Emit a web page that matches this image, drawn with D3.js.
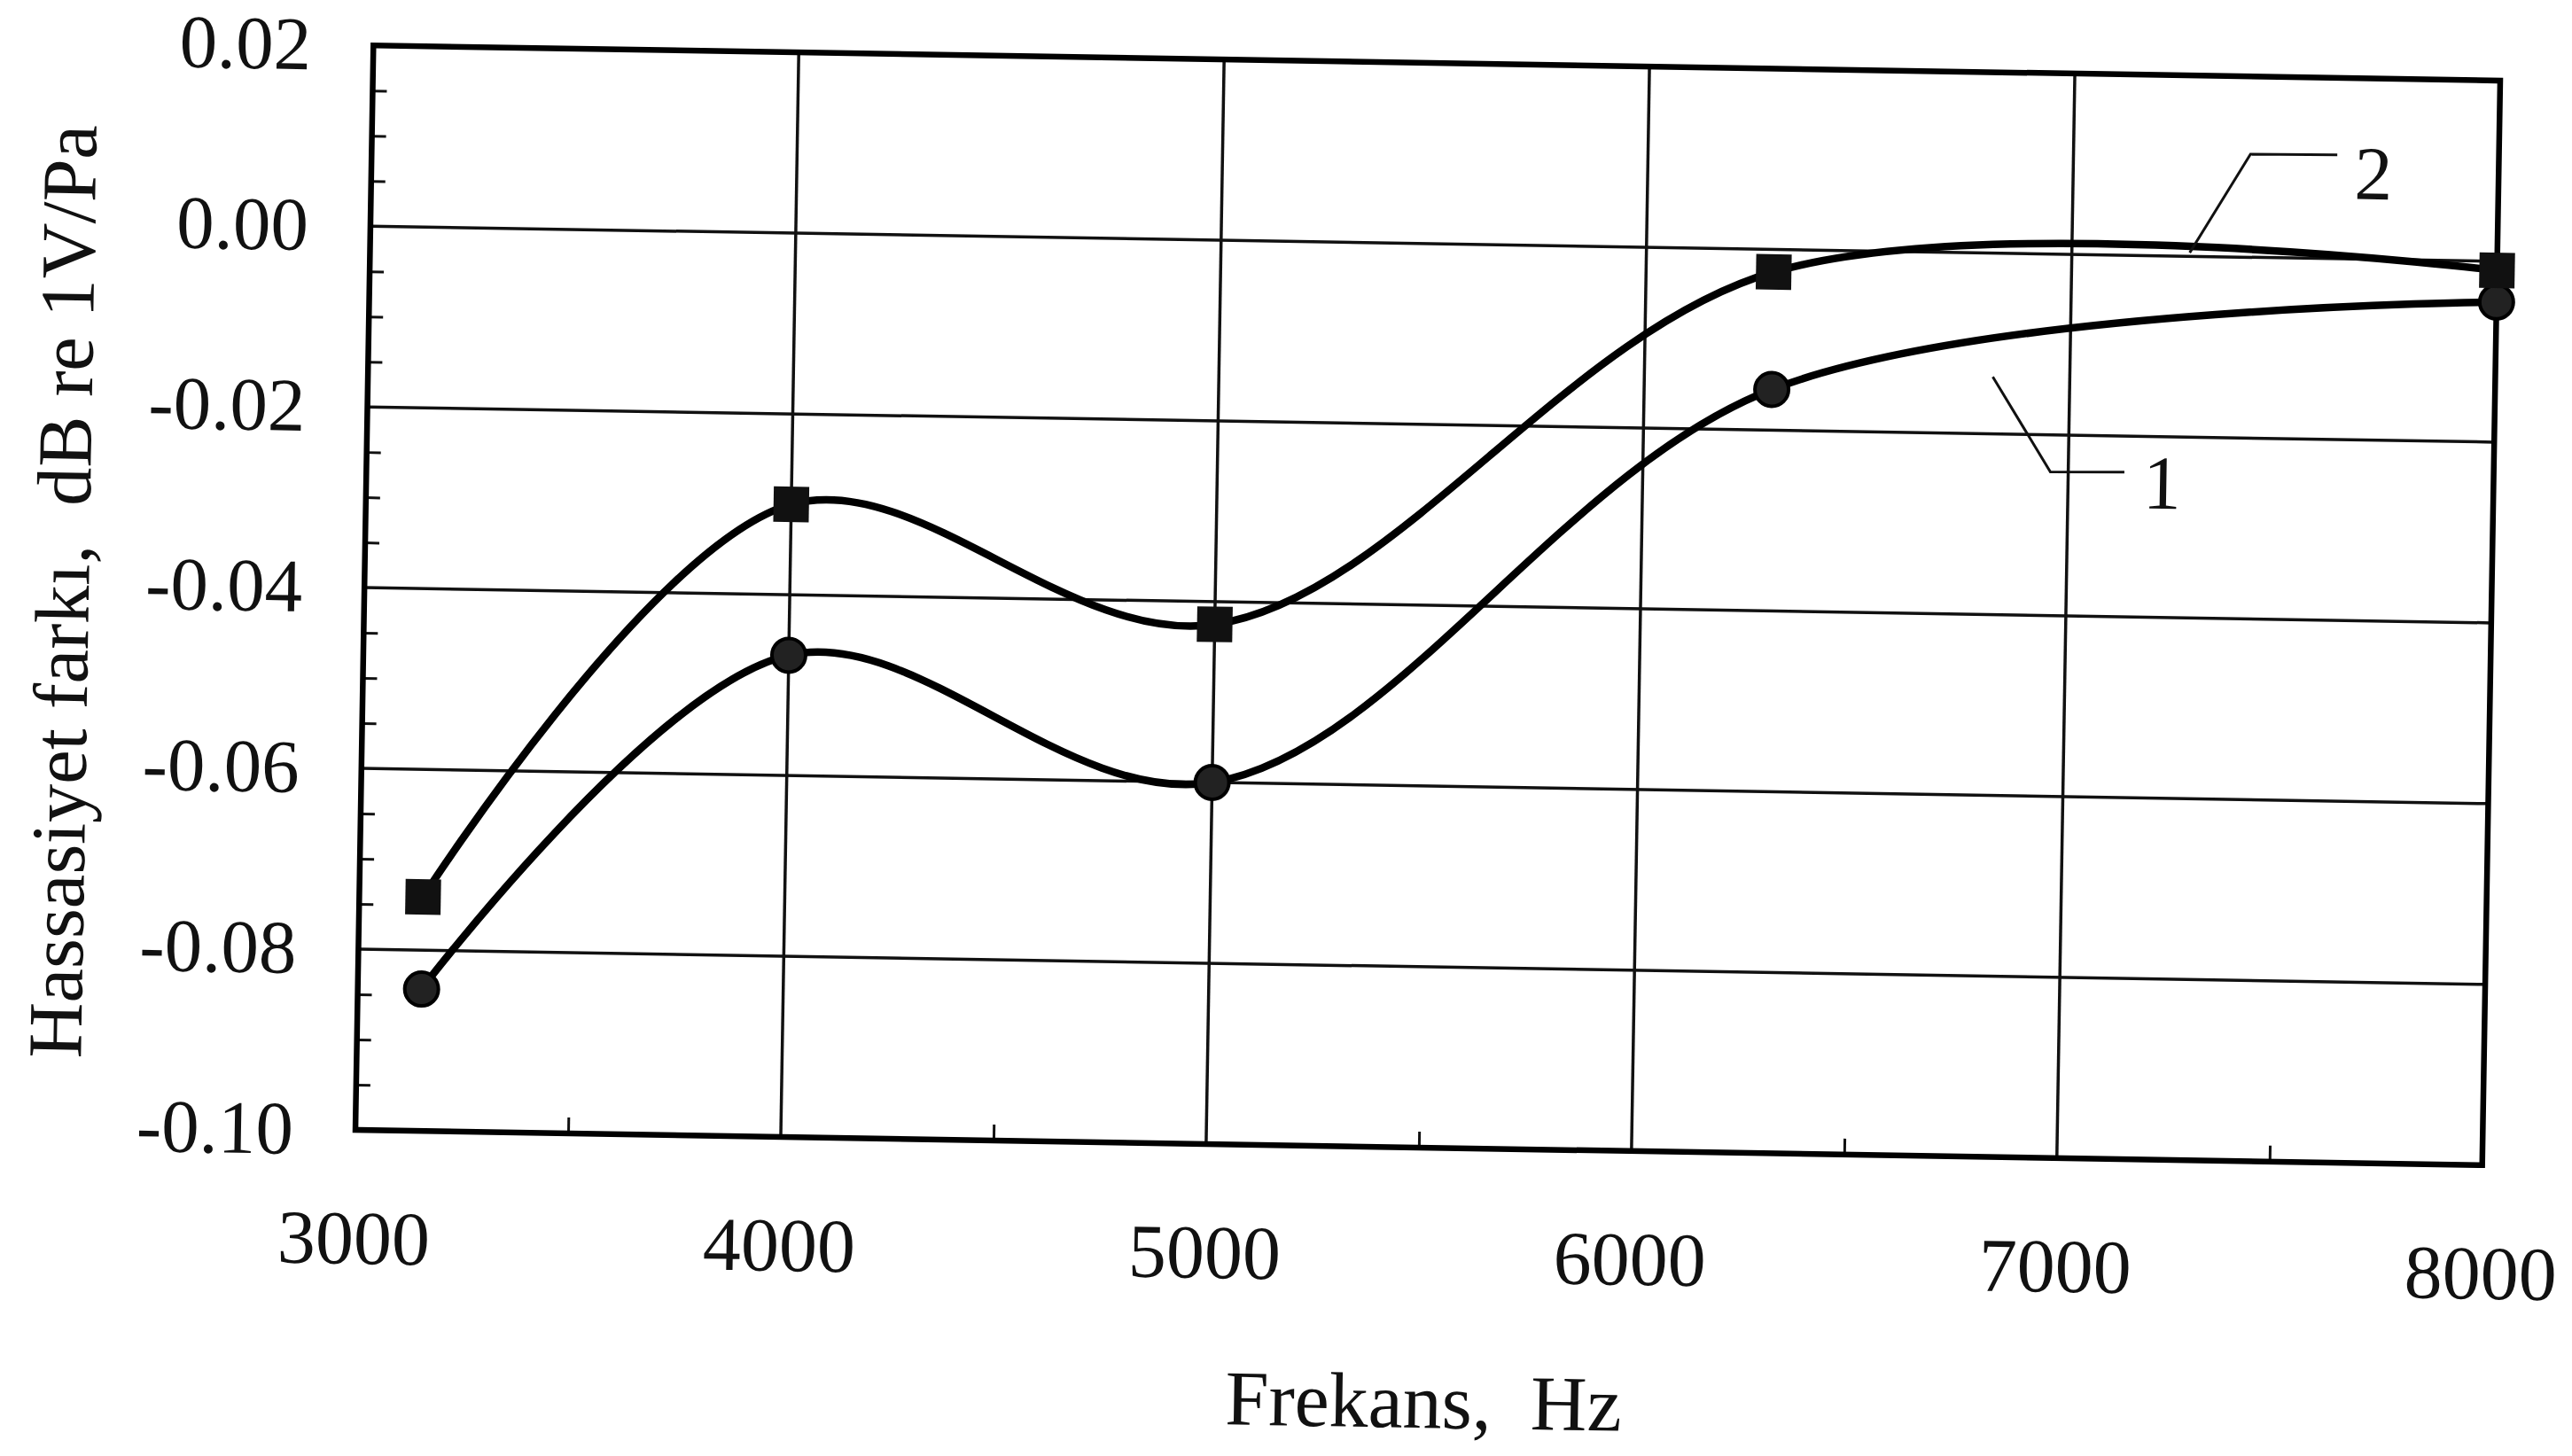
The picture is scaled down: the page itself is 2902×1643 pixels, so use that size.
<!DOCTYPE html>
<html>
<head>
<meta charset="utf-8">
<script src="https://cdn.jsdelivr.net/npm/d3@7"></script>
<style>
  body { margin: 0; background: #fff; }
  text { font-family: "Liberation Serif", "Times New Roman", serif; fill: #111; }
</style>
</head>
<body>
<script>
// SVG size
var svgWidth = 2902;
var svgHeight = 1643;

// plot frame (before the slight tilt of the scan)
var margin = { top: 71, right: 91, bottom: 348, left: 411 };
var chartWidth = svgWidth - margin.left - margin.right;
var chartHeight = svgHeight - margin.top - margin.bottom;

// data
var freqs = [3150, 4000, 5000, 6300, 8000];
var curve1 = [-0.0843, -0.0467, -0.0600, -0.0155, -0.0045];
var curve2 = [-0.0741, -0.0300, -0.0425, -0.0025, -0.0010];

var xTicks = [3000, 4000, 5000, 6000, 7000, 8000];
var xMinor = [3500, 4500, 5500, 6500, 7500];
var yTicks = [0.02, 0.00, -0.02, -0.04, -0.06, -0.08, -0.10];
var yLabels = ["0.02", "0.00", "-0.02", "-0.04", "-0.06", "-0.08", "-0.10"];
var yMinor = [0.015, 0.01, 0.005, -0.005, -0.01, -0.015, -0.025, -0.03, -0.035,
              -0.045, -0.05, -0.055, -0.065, -0.07, -0.075, -0.085, -0.09, -0.095];

// curve labels and their leader lines (data units)
var labelText = ["1", "2"];
var labelAt = [[7221, -0.0250], [7706, 0.0096]];
var leaders = [
  [[6819, -0.0137], [6958, -0.0241], [7132, -0.0240]],
  [[7277, 0.0004], [7416, 0.0114], [7620, 0.0115]]
];

var svg = d3.select("body")
  .append("svg")
  .attr("width", svgWidth)
  .attr("height", svgHeight);

// the scanned page is tilted a little clockwise
var page = svg.append("g")
  .attr("transform", "rotate(0.95," + (margin.left + chartWidth / 2) + "," + (margin.top + chartHeight / 2) + ")");

var chart = page.append("g")
  .attr("transform", "translate(" + margin.left + "," + margin.top + ")");

var x = d3.scaleLinear().domain([3000, 8000]).range([0, chartWidth]);
var y = d3.scaleLinear().domain([-0.10, 0.02]).range([chartHeight, 0]);

// grid lines
chart.append("g")
  .selectAll("line.vgrid")
  .data(xTicks)
  .enter()
  .append("line")
  .attr("x1", function(d) { return x(d); })
  .attr("x2", function(d) { return x(d); })
  .attr("y1", 0)
  .attr("y2", chartHeight)
  .attr("stroke", "#111")
  .attr("stroke-width", 3.5);

chart.append("g")
  .selectAll("line.hgrid")
  .data(yTicks)
  .enter()
  .append("line")
  .attr("x1", 0)
  .attr("x2", chartWidth)
  .attr("y1", function(d) { return y(d); })
  .attr("y2", function(d) { return y(d); })
  .attr("stroke", "#111")
  .attr("stroke-width", 3.5);

// minor ticks, pointing inwards
var xAxis = d3.axisTop(x).tickValues(xMinor).tickSize(18).tickFormat("");
var yAxis = d3.axisRight(y).tickValues(yMinor).tickSize(16).tickFormat("");

chart.append("g")
  .attr("transform", "translate(0," + chartHeight + ")")
  .call(xAxis)
  .call(function(g) { g.select(".domain").remove(); })
  .selectAll("line").attr("stroke", "#111").attr("stroke-width", 3);

chart.append("g")
  .call(yAxis)
  .call(function(g) { g.select(".domain").remove(); })
  .selectAll("line").attr("stroke", "#111").attr("stroke-width", 3);

// frame
chart.append("rect")
  .attr("width", chartWidth)
  .attr("height", chartHeight)
  .attr("fill", "none")
  .attr("stroke", "#000")
  .attr("stroke-width", 6.5);

// tick labels
chart.append("g")
  .selectAll("text")
  .data(xTicks)
  .enter()
  .append("text")
  .attr("x", function(d) { return x(d); })
  .attr("y", chartHeight + 151)
  .attr("text-anchor", "middle")
  .attr("font-size", 86)
  .text(function(d) { return d; });

chart.append("g")
  .selectAll("text")
  .data(yTicks)
  .enter()
  .append("text")
  .attr("x", -70)
  .attr("y", function(d) { return y(d); })
  .attr("dy", "0.33em")
  .attr("text-anchor", "end")
  .attr("font-size", 85)
  .text(function(d, i) { return yLabels[i]; });

// axis titles
chart.append("text")
  .attr("x", chartWidth / 2 + 10)
  .attr("y", chartHeight + 316)
  .attr("text-anchor", "middle")
  .attr("font-size", 88)
  .style("white-space", "pre")
  .text("Frekans,  Hz");

chart.append("text")
  .attr("transform", "translate(" + (70 - margin.left + 30) + "," + (chartHeight / 2 + 10) + ") rotate(-90)")
  .attr("text-anchor", "middle")
  .attr("font-size", 87)
  .style("white-space", "pre")
  .text("Hassasiyet farkı,  dB re 1V/Pa");

// curves
var line = d3.line()
  .x(function(d) { return x(d[0]); })
  .y(function(d) { return y(d[1]); })
  .curve(d3.curveCatmullRom.alpha(0.5));

var series1 = freqs.map(function(f, i) { return [f, curve1[i]]; });
var series2 = freqs.map(function(f, i) { return [f, curve2[i]]; });

[series1, series2].forEach(function(s) {
  chart.append("path")
    .datum(s)
    .attr("fill", "none")
    .attr("stroke", "#000")
    .attr("stroke-width", 8.5)
    .attr("stroke-linejoin", "round")
    .attr("stroke-linecap", "round")
    .attr("d", line);
});

// markers
chart.selectAll("circle.m1")
  .data(series1)
  .enter()
  .append("circle")
  .attr("cx", function(d) { return x(d[0]); })
  .attr("cy", function(d) { return y(d[1]); })
  .attr("r", 19)
  .attr("fill", "#222")
  .attr("stroke", "#000")
  .attr("stroke-width", 4);

chart.selectAll("rect.m2")
  .data(series2)
  .enter()
  .append("rect")
  .attr("x", function(d) { return x(d[0]) - 20; })
  .attr("y", function(d) { return y(d[1]) - 20; })
  .attr("width", 40)
  .attr("height", 40)
  .attr("fill", "#111");

// curve labels with leaders
var leaderLine = d3.line()
  .x(function(d) { return x(d[0]); })
  .y(function(d) { return y(d[1]); });

leaders.forEach(function(pts) {
  chart.append("path")
    .attr("d", leaderLine(pts))
    .attr("fill", "none")
    .attr("stroke", "#111")
    .attr("stroke-width", 3);
});

chart.selectAll("text.lab")
  .data(labelText)
  .enter()
  .append("text")
  .attr("x", function(d, i) { return x(labelAt[i][0]); })
  .attr("y", function(d, i) { return y(labelAt[i][1]); })
  .attr("dy", "0.35em")
  .attr("text-anchor", "middle")
  .attr("font-size", 86)
  .text(function(d) { return d; });
</script>
</body>
</html>
